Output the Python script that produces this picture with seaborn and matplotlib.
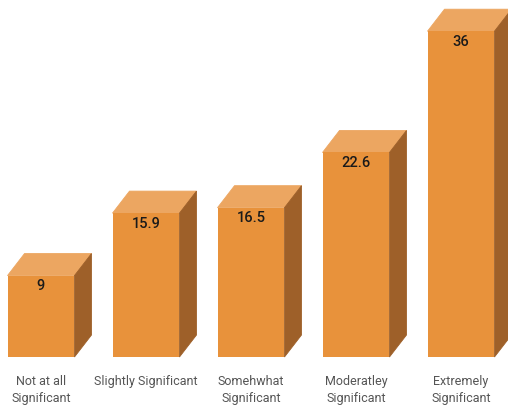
import matplotlib
matplotlib.use("Agg")
import matplotlib.pyplot as plt
from matplotlib.patches import Polygon
import seaborn as sns
import pandas as pd

categories = ["Not at all\nSignificant", "Slightly Significant", "Somehwhat\nSignificant",
              "Moderatley\nSignificant", "Extremely\nSignificant"]
values = [9, 15.9, 16.5, 22.6, 36]
value_labels = ["9", "15.9", "16.5", "22.6", "36"]

FRONT = "#E8923B"
TOP = "#ECA661"
SIDE = "#9E6029"

sns.set_theme(style="white")
plt.rcParams["font.family"] = ["Roboto", "DejaVu Sans"]

df = pd.DataFrame({"category": categories, "value": values})

fig = plt.figure(figsize=(5.08, 4.06), dpi=100)
ax = fig.add_axes([0, 48 / 406, 1, 358 / 406])

sns.barplot(data=df, x="category", y="value", color=FRONT, saturation=1,
            width=0.638, ax=ax, zorder=4)

ax.set_xlim(-41 / 105, (508 - 41) / 105)
ax.set_ylim(0, 358 / 9.05)

# depth of the extruded box, in data units
dx = 17 / 105
dy = 22 / 9.05

for bar, lab in zip(ax.patches, value_labels):
    bar.set_edgecolor("none")
    x0 = bar.get_x()
    w = bar.get_width()
    h = bar.get_height()
    top = Polygon([(x0, h), (x0 + w, h), (x0 + w + dx, h + dy), (x0 + dx, h + dy)],
                  closed=True, facecolor=TOP, edgecolor=TOP, linewidth=0.6,
                  zorder=3, clip_on=False)
    side = Polygon([(x0 + w, 0), (x0 + w, h), (x0 + w + dx, h + dy), (x0 + w + dx, dy)],
                   closed=True, facecolor=SIDE, edgecolor=SIDE, linewidth=0.6,
                   zorder=3, clip_on=False)
    ax.add_patch(top)
    ax.add_patch(side)
    ax.text(x0 + w / 2, h - 1.05, lab, ha="center", va="center", fontsize=10.5,
            fontweight="medium", color="#1a1a1a", zorder=5)

ax.set_xlabel("")
ax.set_ylabel("")
ax.set_yticks([])
ax.tick_params(axis="x", length=0, pad=12, labelsize=9, labelcolor="#555555")
for t in ax.get_xticklabels():
    t.set_linespacing(1.45)
for s in ax.spines.values():
    s.set_visible(False)

fig.savefig("out.png", dpi=100)
